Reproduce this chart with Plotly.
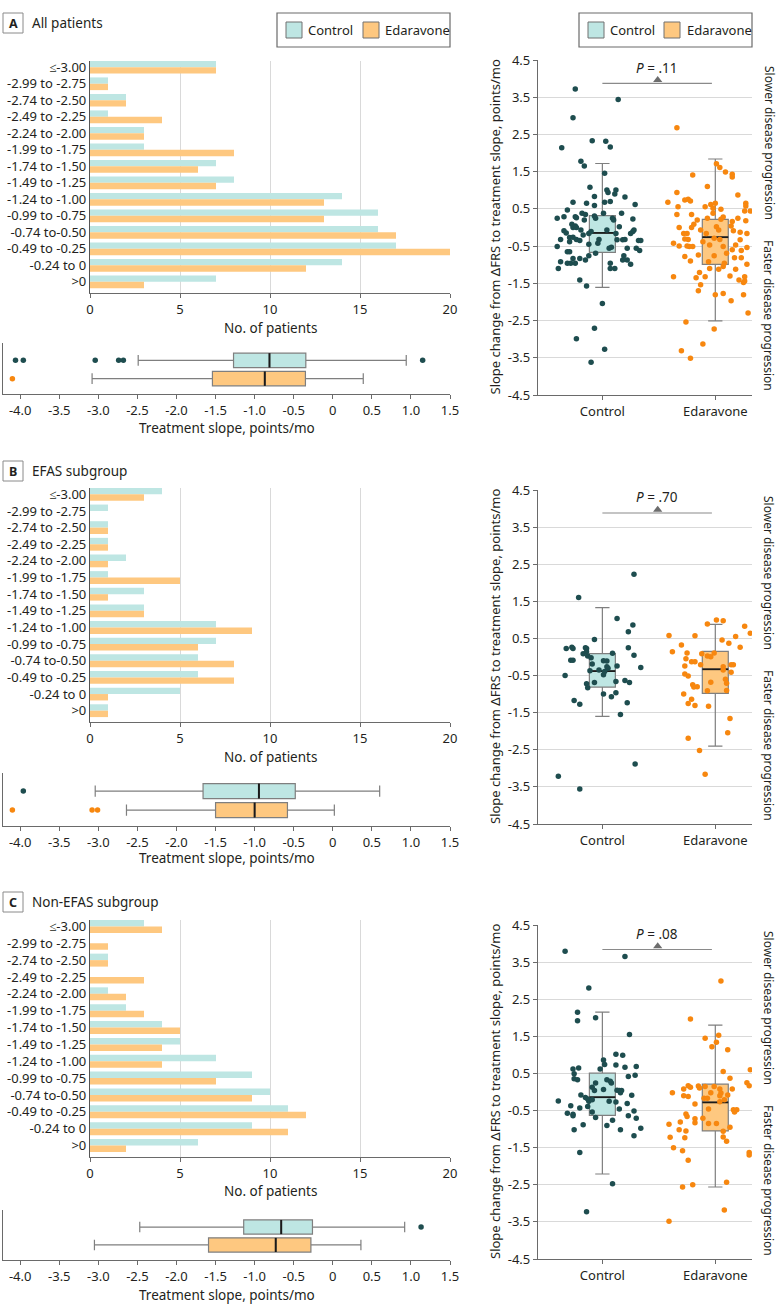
import plotly.graph_objects as go

W, H = 780, 1313
FONT = "Noto Sans"
TXT = "#231f20"
C_BAR = "#bee6e3"
E_BAR = "#fec880"
C_DOT = "#1e4d4f"
E_DOT = "#f7870f"
GRID = "#d9d9d9"
AX = "#6a6a6a"

# ---------------- data ----------------
categories = ["≤-3.00", "-2.99 to -2.75", "-2.74 to -2.50", "-2.49 to -2.25", "-2.24 to -2.00",
              "-1.99 to -1.75", "-1.74 to -1.50", "-1.49 to -1.25", "-1.24 to -1.00",
              "-0.99 to -0.75", "-0.74 to-0.50", "-0.49 to -0.25", "-0.24 to 0", ">0"]

hist_a_control = [7, 1, 2, 1, 3, 3, 7, 8, 14, 16, 16, 17, 14, 7]
hist_a_edaravone = [7, 1, 2, 4, 3, 8, 6, 7, 13, 13, 17, 20, 12, 3]
hist_b_control = [4, 1, 1, 1, 2, 1, 3, 3, 7, 7, 6, 6, 5, 1]
hist_b_edaravone = [3, 0, 1, 1, 1, 5, 1, 3, 9, 6, 8, 8, 1, 1]
hist_c_control = [3, 0, 1, 0, 1, 2, 4, 5, 7, 9, 10, 11, 9, 6]
hist_c_edaravone = [4, 1, 1, 3, 2, 3, 5, 4, 4, 7, 9, 12, 11, 2]

# treatment slope: [lower whisker, Q1, median, Q3, upper whisker]
slope_a_control = [-2.49, -1.27, -0.81, -0.345, 0.94]
slope_a_control_out = [-4.06, -3.96, -3.04, -2.74, -2.68, 1.15]
slope_a_edaravone = [-3.08, -1.54, -0.87, -0.35, 0.39]
slope_a_edaravone_out = [-4.10]
slope_b_control = [-3.04, -1.66, -0.945, -0.48, 0.60]
slope_b_control_out = [-3.96]
slope_b_edaravone = [-2.64, -1.50, -1.00, -0.58, 0.02]
slope_b_edaravone_out = [-4.10, -3.08, -3.01]
slope_c_control = [-2.47, -1.14, -0.66, -0.26, 0.92]
slope_c_control_out = [1.13]
slope_c_edaravone = [-3.05, -1.59, -0.73, -0.28, 0.36]
slope_c_edaravone_out = []

# slope change: [lower whisker, Q1, median, Q3, upper whisker]
change_a_control = [-1.61, -0.666, -0.146, 0.32, 1.72]
change_a_edaravone = [-2.51, -0.99, -0.26, 0.22, 1.84]
change_b_control = [-1.60, -0.81, -0.38, 0.09, 1.33]
change_b_edaravone = [-2.40, -0.98, -0.33, 0.15, 0.88]
change_c_control = [-2.21, -0.63, -0.14, 0.51, 2.15]
change_c_edaravone = [-2.56, -1.05, -0.28, 0.21, 1.80]

p_values = ["P = .11", "P = .70", "P = .08"]
p_bracket_y = [3.87, 3.88, 3.84]

# individual patients: (horizontal jitter, slope change)
pts_a_control = [
    (-0.24, 3.72), (0.14, 3.44), (-0.26, 2.95), (-0.09, 2.33), (0.03, 2.32), (-0.36, 2.14), (0.07, 2.16),
    (-0.19, 1.78), (-0.16, 1.65), (0.02, 1.46), (-0.11, 1.08), (0.04, 1.01), (0.05, 0.94), (0.12, 1.01),
    (0.11, 0.90), (-0.07, 0.83), (0.20, 0.82), (-0.26, 0.68), (0.02, 0.68), (0.07, 0.70), (-0.07, 0.59),
    (0.29, 0.62), (-0.31, 0.47), (-0.40, 0.25), (-0.34, 0.29), (-0.18, 0.38), (-0.15, 0.35), (-0.24, 0.29),
    (-0.23, 0.26), (-0.27, 0.09), (-0.26, 0.00), (-0.24, 0.04), (-0.23, 0.00), (-0.34, -0.09), (-0.16, 0.20),
    (-0.06, 0.25), (0.09, 0.25), (0.10, 0.20), (0.15, 0.02), (0.27, 0.23), (0.28, -0.07), (0.27, -0.11),
    (-0.17, -0.20), (-0.12, -0.16), (-0.37, -0.32), (-0.29, -0.27), (-0.26, -0.26), (-0.23, -0.32),
    (-0.20, -0.35), (-0.29, -0.38), (-0.40, -0.51), (-0.31, -0.65), (-0.29, -0.65), (-0.12, -0.45),
    (-0.03, -0.32), (0.06, -0.56), (0.08, -0.53), (0.18, -0.33), (0.20, -0.32), (0.30, -0.56), (0.33, -0.62),
    (0.32, -0.35), (0.34, -0.35), (-0.37, -0.92), (-0.26, -0.83), (-0.20, -0.83), (-0.12, -0.76),
    (-0.31, -0.96), (-0.28, -0.96), (-0.24, -0.96), (-0.15, -0.87), (-0.39, -1.10), (0.07, -0.96),
    (0.07, -1.10), (0.11, -1.10), (0.18, -0.87), (0.22, -0.87), (0.19, -0.76), (0.25, -0.99), (-0.20, -1.41),
    (-0.14, -1.57), (0.00, -2.04), (-0.07, -2.71), (-0.23, -2.99), (0.02, -3.27), (-0.10, -3.62),
    (-0.10, -0.11), (0.04, -0.07), (0.12, -0.16), (-0.04, -0.42), (0.13, -0.33), (-0.07, 0.31), (0.01, 0.38),
    (0.17, 0.38), (-0.14, 0.65), (-0.32, -0.15), (-0.19, -0.07), (0.22, -0.56), (-0.06, -0.69), (0.25, -0.16),
]
pts_a_edaravone = [
    (-0.34, 2.68), (-0.07, 1.10), (-0.20, 1.41), (0.01, 1.71), (0.04, 1.61), (0.09, 1.49), (0.15, 1.43),
    (0.15, 1.36), (-0.34, 0.94), (-0.42, 0.68), (-0.27, 0.74), (-0.24, 0.76), (-0.22, 0.71), (0.20, 0.87),
    (-0.33, 0.56), (-0.34, 0.35), (-0.21, 0.35), (-0.09, 0.56), (-0.04, 0.62), (0.00, 0.65), (-0.02, 0.52),
    (-0.02, 0.38), (0.05, 0.49), (0.05, 0.22), (0.27, 0.65), (0.27, 0.58), (0.31, 0.44), (0.26, 0.44),
    (0.27, 0.18), (0.20, 0.25), (0.15, 0.16), (0.14, 0.04), (0.28, -0.16), (0.22, -0.13), (0.16, -0.09),
    (-0.32, 0.00), (-0.28, -0.16), (-0.16, 0.20), (-0.19, 0.09), (-0.21, 0.00), (-0.25, -0.16),
    (-0.24, -0.32), (-0.37, -0.42), (-0.32, -0.50), (-0.25, -0.50), (-0.23, -0.51), (-0.20, -0.51),
    (-0.27, -0.31), (-0.13, -0.07), (-0.08, -0.16), (-0.01, -0.29), (0.01, 0.02), (0.03, -0.07),
    (0.04, -0.32), (-0.05, -0.47), (0.07, -0.51), (0.10, -0.69), (0.23, -0.62), (0.15, -0.60), (0.17, -0.81),
    (0.23, -0.81), (0.28, -0.54), (-0.27, -0.78), (-0.22, -0.90), (-0.15, -0.74), (-0.06, -0.92),
    (-0.01, -0.76), (-0.14, -1.21), (-0.17, -1.35), (-0.09, -1.32), (-0.05, -1.10), (0.03, -1.12),
    (0.07, -1.05), (0.08, -0.96), (0.18, -1.12), (0.13, -1.30), (0.21, -1.41), (0.26, -1.32), (0.25, -1.48),
    (0.26, -1.44), (0.28, -0.99), (-0.37, -1.32), (-0.13, -1.54), (-0.15, -1.70), (0.00, -1.81),
    (0.07, -1.77), (0.25, -1.81), (0.14, -1.97), (0.29, -2.30), (-0.26, -2.54), (-0.01, -2.73),
    (-0.11, -3.13), (-0.30, -3.31), (-0.22, -3.51), (0.18, -0.47), (0.22, -0.33), (-0.11, -0.38),
    (0.07, 0.28), (-0.07, 0.25),
]
pts_b_control = [
    (-0.21, 1.60), (0.28, 2.23), (0.13, 1.04), (0.27, 0.86), (0.23, 0.68), (-0.07, 0.47), (-0.32, 0.23),
    (-0.27, 0.26), (-0.26, 0.23), (-0.15, 0.25), (-0.14, 0.23), (0.23, 0.25), (-0.28, -0.09), (-0.26, -0.09),
    (-0.17, 0.09), (-0.13, 0.03), (-0.10, -0.02), (0.01, -0.10), (0.04, -0.11), (0.09, 0.10), (0.28, 0.05),
    (0.13, -0.24), (0.34, -0.28), (-0.33, -0.50), (-0.11, -0.37), (-0.03, -0.35), (0.05, -0.30),
    (0.01, -0.48), (-0.14, -0.72), (-0.13, -0.83), (-0.07, -0.69), (0.12, -0.66), (0.20, -0.63),
    (0.24, -0.69), (0.01, -1.00), (0.08, -1.07), (0.12, -0.96), (-0.25, -1.17), (-0.20, -1.27),
    (0.22, -1.23), (0.16, -1.55), (0.29, -2.88), (-0.39, -3.21), (-0.20, -3.56), (0.04, -0.26),
    (-0.14, 0.14), (-0.09, -0.19), (0.02, -0.39),
]
pts_b_edaravone = [
    (-0.41, 0.58), (-0.38, 0.14), (-0.30, 0.32), (-0.25, 0.11), (-0.26, -0.05), (-0.27, -0.24),
    (-0.21, -0.13), (-0.18, -0.13), (-0.18, 0.57), (-0.07, 0.89), (0.01, 1.00), (0.07, 0.98), (0.06, 0.46),
    (0.12, 0.37), (0.18, 0.55), (0.22, 0.26), (0.26, 0.83), (0.31, 0.64), (-0.12, 0.09), (-0.04, 0.01),
    (-0.07, 0.03), (-0.01, 0.11), (-0.13, -0.21), (0.07, -0.26), (0.14, -0.21), (0.16, -0.21),
    (0.14, -0.41), (-0.27, -0.46), (-0.24, -0.51), (-0.20, -0.75), (-0.16, -0.80), (-0.19, -0.81),
    (-0.04, -0.68), (0.09, -0.60), (0.10, -0.71), (0.10, -0.90), (-0.07, -0.91), (-0.28, -1.00),
    (-0.21, -1.14), (-0.24, -1.25), (-0.18, -1.31), (-0.06, -1.33), (0.13, -1.66), (0.11, -2.04),
    (-0.24, -2.19), (-0.14, -2.52), (-0.09, -3.16), (0.07, -0.35),
]
pts_c_control = [
    (-0.33, 3.79), (0.20, 3.65), (-0.12, 2.80), (-0.22, 2.15), (-0.22, 1.92), (-0.06, 2.00), (0.24, 1.55),
    (0.01, 0.86), (0.02, 0.74), (0.12, 1.02), (0.18, 0.99), (0.12, 0.73), (0.20, 0.67), (0.30, 0.69),
    (-0.21, 0.65), (-0.26, 0.62), (-0.25, 0.49), (-0.25, 0.36), (-0.22, 0.33), (-0.02, 0.62), (0.04, 0.33),
    (0.08, 0.24), (-0.06, 0.24), (-0.09, 0.13), (-0.07, 0.04), (0.01, 0.07), (0.13, 0.05), (0.15, 0.04),
    (0.16, -0.02), (0.23, 0.42), (0.29, 0.45), (0.26, -0.09), (-0.19, -0.08), (-0.15, -0.15),
    (-0.13, -0.19), (-0.12, -0.25), (-0.39, -0.24), (-0.09, -0.21), (0.06, -0.25), (0.12, -0.27),
    (0.22, -0.31), (-0.20, -0.43), (-0.13, -0.39), (0.15, -0.46), (-0.28, -0.37), (-0.31, -0.57),
    (-0.26, -0.60), (-0.26, -0.64), (-0.09, -0.54), (-0.06, -0.69), (0.09, -0.76), (0.23, -0.64),
    (0.28, -0.51), (0.30, -0.71), (-0.17, -0.88), (0.04, -0.90), (0.34, -0.98), (-0.25, -1.02),
    (0.16, -1.02), (0.28, -1.18), (-0.20, -1.63), (0.09, -2.47), (-0.14, -3.23), (0.07, 0.29), (0.17, 0.04),
]
pts_c_edaravone = [
    (0.05, 2.99), (-0.22, 1.97), (-0.09, 1.45), (0.03, 1.53), (0.01, 1.34), (-0.03, 1.22), (0.11, 1.14),
    (0.07, 0.55), (0.13, 0.37), (0.31, 0.60), (0.28, 0.25), (0.30, 0.17), (0.15, 0.08), (-0.24, 0.17),
    (-0.15, 0.16), (-0.14, 0.11), (-0.01, 0.15), (0.04, 0.08), (-0.04, -0.02), (0.05, -0.03), (0.11, -0.08),
    (-0.10, -0.17), (-0.07, -0.17), (0.04, -0.10), (0.08, -0.21), (-0.38, -0.02), (-0.28, 0.08),
    (-0.28, -0.10), (-0.24, -0.12), (-0.18, -0.32), (-0.06, -0.46), (0.04, -0.26), (0.16, -0.48),
    (0.19, -0.48), (0.17, -0.54), (-0.26, -0.59), (-0.25, -0.66), (-0.31, -0.81), (-0.18, -0.72),
    (-0.11, -0.71), (-0.18, -0.83), (-0.06, -0.85), (0.01, -0.85), (-0.41, -0.87), (-0.32, -1.02),
    (-0.26, -1.05), (0.07, -1.06), (0.13, -0.95), (-0.40, -1.22), (-0.27, -1.23), (0.07, -1.21),
    (0.10, -1.33), (-0.37, -1.50), (-0.29, -1.58), (0.30, -1.63), (0.30, -1.70), (-0.24, -1.84),
    (0.10, -2.43), (-0.20, -2.50), (-0.29, -2.56), (0.08, -3.18), (-0.41, -3.48), (-0.22, 0.13), (-0.09, 0.15),
]

panels = [
    dict(key="A", title="All patients", hc=hist_a_control, he=hist_a_edaravone,
         sc=slope_a_control, sco=slope_a_control_out, se=slope_a_edaravone, seo=slope_a_edaravone_out,
         cc=change_a_control, ce=change_a_edaravone, pc=pts_a_control, pe=pts_a_edaravone,
         label_y=23, hist=(61, 293), hist_title=328, strip=(343, 394), strip_title=428, scat=(60, 395)),
    dict(key="B", title="EFAS subgroup", hc=hist_b_control, he=hist_b_edaravone,
         sc=slope_b_control, sco=slope_b_control_out, se=slope_b_edaravone, seo=slope_b_edaravone_out,
         cc=change_b_control, ce=change_b_edaravone, pc=pts_b_control, pe=pts_b_edaravone,
         label_y=471, hist=(488, 722), hist_title=757, strip=(773, 826), strip_title=858, scat=(490, 824)),
    dict(key="C", title="Non-EFAS subgroup", hc=hist_c_control, he=hist_c_edaravone,
         sc=slope_c_control, sco=slope_c_control_out, se=slope_c_edaravone, seo=slope_c_edaravone_out,
         cc=change_c_control, ce=change_c_edaravone, pc=pts_c_control, pe=pts_c_edaravone,
         label_y=902, hist=(920, 1157), hist_title=1191, strip=(1210, 1260), strip_title=1295, scat=(925, 1259)),
]


def px_x(p):
    return p / W


def px_y(p):
    return 1 - p / H


def xdom(a, b):
    return [a / W, b / W]


def ydom(top, bottom):
    return [1 - bottom / H, 1 - top / H]


def ann(text, x, y, size=13.5, xanchor="center", angle=0, **kw):
    d = dict(text=text, x=px_x(x), y=px_y(y), xref="paper", yref="paper", xanchor=xanchor,
             yanchor="middle", showarrow=False, textangle=angle, font=dict(size=size, color=TXT))
    d.update(kw)
    return d


bar_traces, box_traces, line_traces = [], [], []
layout = dict(
    width=W, height=H, margin=dict(l=0, r=0, t=0, b=0, pad=0), autosize=False,
    paper_bgcolor="white", plot_bgcolor="white",
    font=dict(family=FONT, size=13, color=TXT),
    showlegend=False, barmode="group", bargap=0.23, bargroupgap=0,
)
shapes, annotations = [], []

ytick_scatter = [-4.5, -3.5, -2.5, -1.5, -0.5, 0.5, 1.5, 2.5, 3.5, 4.5]
ytick_scatter_txt = ["-4.5", "-3.5", "-2.5", "-1.5", "-0.5", "0.5", "1.5", "2.5", "3.5", "4.5"]
xtick_strip = [-4.0, -3.5, -3.0, -2.5, -2.0, -1.5, -1.0, -0.5, 0, 0.5, 1.0, 1.5]
xtick_strip_txt = ["-4.0", "-3.5", "-3.0", "-2.5", "-2.0", "-1.5", "-1.0", "-0.5", "0", "0.5", "1.0", "1.5"]

BOXW_S = 0.79     # strip box height (data units)
BOXW_C = 0.23     # scatter box width (data units)

for i, p in enumerate(panels):
    n = 3 * i
    ax_h, ax_s, ax_c = n + 1, n + 2, n + 3

    def nm(k, a):
        return f"{a}{'' if k == 1 else k}"

    # ---- histogram ----
    ypos = list(range(len(categories)))
    bar_traces.append(go.Bar(orientation="h", x=p["hc"], y=ypos, marker=dict(color=C_BAR, line=dict(width=0)),
                             xaxis=nm(ax_h, "x"), yaxis=nm(ax_h, "y"), hoverinfo="skip"))
    bar_traces.append(go.Bar(orientation="h", x=p["he"], y=ypos, marker=dict(color=E_BAR, line=dict(width=0)),
                             xaxis=nm(ax_h, "x"), yaxis=nm(ax_h, "y"), hoverinfo="skip"))
    layout[nm(ax_h, "xaxis")] = dict(domain=xdom(90, 450), anchor=nm(ax_h, "y"), range=[0, 20],
                                     tickvals=[0, 5, 10, 15, 20], showgrid=True, gridcolor=GRID, gridwidth=1.3,
                                     zeroline=False, showline=True, linecolor=AX, linewidth=1.2,
                                     ticks="outside", ticklen=4, tickcolor=AX, tickfont=dict(size=13),
                                     automargin=False)
    layout[nm(ax_h, "yaxis")] = dict(domain=ydom(*p["hist"]), anchor=nm(ax_h, "x"), range=[13.68, -0.38],
                                     tickvals=ypos, ticktext=categories, showgrid=False, zeroline=False,
                                     showline=True, linecolor="#555", linewidth=1.2, ticks="",
                                     tickfont=dict(size=13), automargin=False)
    annotations.append(ann("No. of patients", 270, p["hist_title"]))

    # ---- treatment slope strip ----
    for pos, st, out, fill, dot in [(1, p["sc"], p["sco"], C_BAR, C_DOT), (0, p["se"], p["seo"], E_BAR, E_DOT)]:
        box_traces.append(go.Box(orientation="h", y=[pos], lowerfence=[st[0]], q1=[st[1]], median=[st[2]],
                                 q3=[st[3]], upperfence=[st[4]], width=BOXW_S, whiskerwidth=0.75,
                                 fillcolor=fill, line=dict(color="#7f7f7f", width=1.2), boxpoints=False,
                                 xaxis=nm(ax_s, "x"), yaxis=nm(ax_s, "y"), hoverinfo="skip"))
        line_traces.append(go.Scatter(x=[st[2], st[2]], y=[pos - BOXW_S / 2, pos + BOXW_S / 2], mode="lines",
                                      line=dict(color="#1a1a1a", width=2), xaxis=nm(ax_s, "x"),
                                      yaxis=nm(ax_s, "y"), hoverinfo="skip"))
        if out:
            line_traces.append(go.Scatter(x=out, y=[pos] * len(out), mode="markers",
                                          marker=dict(color=dot, size=5.5), xaxis=nm(ax_s, "x"),
                                          yaxis=nm(ax_s, "y"), hoverinfo="skip"))
    layout[nm(ax_s, "xaxis")] = dict(domain=xdom(3, 450), anchor=nm(ax_s, "y"), range=[-4.22, 1.5],
                                     tickvals=xtick_strip, ticktext=xtick_strip_txt, showgrid=False,
                                     zeroline=False, showline=True, linecolor=AX, linewidth=1.2,
                                     ticks="outside", ticklen=4, tickcolor=AX, tickfont=dict(size=13),
                                     automargin=False)
    layout[nm(ax_s, "yaxis")] = dict(domain=ydom(*p["strip"]), anchor=nm(ax_s, "x"), range=[-0.84, 1.95],
                                     showticklabels=False, showgrid=False, zeroline=False, showline=True,
                                     linecolor=AX, linewidth=1.2, ticks="", automargin=False)
    annotations.append(ann("Treatment slope, points/mo", 227, p["strip_title"]))

    # ---- slope change scatter ----
    for pos, st, pts, fill, dot in [(0, p["cc"], p["pc"], C_BAR, C_DOT), (1, p["ce"], p["pe"], E_BAR, E_DOT)]:
        box_traces.append(go.Box(x=[pos], lowerfence=[st[0]], q1=[st[1]], median=[st[2]], q3=[st[3]],
                                 upperfence=[st[4]], width=BOXW_C, whiskerwidth=0.55, fillcolor=fill,
                                 line=dict(color="#7f7f7f", width=1.2), boxpoints=False,
                                 xaxis=nm(ax_c, "x"), yaxis=nm(ax_c, "y"), hoverinfo="skip"))
        line_traces.append(go.Scatter(x=[pos - BOXW_C / 2, pos + BOXW_C / 2], y=[st[2], st[2]], mode="lines",
                                      line=dict(color="#1a1a1a", width=1.8), xaxis=nm(ax_c, "x"),
                                      yaxis=nm(ax_c, "y"), hoverinfo="skip"))
        line_traces.append(go.Scatter(x=[pos + d for d, _ in pts], y=[v for _, v in pts], mode="markers",
                                      marker=dict(color=dot, size=5.5), xaxis=nm(ax_c, "x"),
                                      yaxis=nm(ax_c, "y"), hoverinfo="skip"))
    # P-value bracket
    by = p_bracket_y[i]
    shapes.append(dict(type="line", xref=nm(ax_c, "x"), yref=nm(ax_c, "y"), x0=0, x1=0.97, y0=by, y1=by,
                       line=dict(color="#8a8a8a", width=1.2)))
    line_traces.append(go.Scatter(x=[0.49], y=[by + 0.09], mode="markers",
                                  marker=dict(symbol="triangle-up", size=8, color="#6d6d6d"),
                                  xaxis=nm(ax_c, "x"), yaxis=nm(ax_c, "y"), hoverinfo="skip"))
    ptxt = p_values[i].replace("P", "<i>P</i>", 1)
    annotations.append(dict(text=ptxt, x=0.48, y=by + 0.42, xref=nm(ax_c, "x"), yref=nm(ax_c, "y"),
                            xanchor="center", yanchor="middle", showarrow=False,
                            font=dict(size=13.5, color=TXT)))
    layout[nm(ax_c, "xaxis")] = dict(domain=xdom(538, 752), anchor=nm(ax_c, "y"), range=[-0.57, 1.325],
                                     tickvals=[0, 1], ticktext=["Control", "Edaravone"], showgrid=False,
                                     zeroline=False, showline=True, linecolor=AX, linewidth=1.2,
                                     ticks="outside", ticklen=4, tickcolor=AX, tickfont=dict(size=13),
                                     automargin=False)
    layout[nm(ax_c, "yaxis")] = dict(domain=ydom(*p["scat"]), anchor=nm(ax_c, "x"), range=[-4.5, 4.5],
                                     tickvals=ytick_scatter, ticktext=ytick_scatter_txt, showgrid=True,
                                     gridcolor=GRID, gridwidth=1.3, zeroline=False, showline=True,
                                     linecolor=AX, linewidth=1.2, ticks="outside", ticklen=4, tickcolor=AX,
                                     tickfont=dict(size=13), automargin=False)
    top, bot = p["scat"]
    annotations.append(ann("Slope change from ΔFRS to treatment slope, points/mo", 495, (top + bot) / 2,
                           size=13, angle=-90))
    annotations.append(ann("Slower disease progression", 769, top + 83, size=12, angle=90))
    annotations.append(ann("Faster disease progression", 769, top + 255, size=12, angle=90))

    # ---- panel label ----
    ly = p["label_y"]
    shapes.append(dict(type="rect", xref="paper", yref="paper", x0=px_x(3), x1=px_x(23), y0=px_y(ly + 10),
                       y1=px_y(ly - 10), line=dict(color="#8a8a8a", width=1), fillcolor="white"))
    annotations.append(ann(f"<b>{p['key']}</b>", 13, ly, size=12.5))
    annotations.append(ann(p["title"], 30, ly, xanchor="left"))

# ---- legends (drawn) ----
for (bx0, bx1, sc0, tc, se0, te) in [(277, 450, 286, 306, 363, 383), (579, 752, 588, 608, 664, 685)]:
    shapes.append(dict(type="rect", xref="paper", yref="paper", x0=px_x(bx0), x1=px_x(bx1), y0=px_y(47),
                       y1=px_y(13), line=dict(color="#6a6a6a", width=1.2), fillcolor="white"))
    for sx, col in [(sc0, C_BAR), (se0, E_BAR)]:
        shapes.append(dict(type="rect", xref="paper", yref="paper", x0=px_x(sx), x1=px_x(sx + 16),
                           y0=px_y(38), y1=px_y(22), line=dict(color="#707070", width=1), fillcolor=col))
    annotations.append(ann("Control", tc, 30, size=13, xanchor="left"))
    annotations.append(ann("Edaravone", te, 30, size=13, xanchor="left"))

layout["shapes"] = shapes
layout["annotations"] = annotations

fig = go.Figure(data=bar_traces + box_traces + line_traces)
fig.update_layout(**layout)
fig.write_html("out.html", config={"displayModeBar": False},
               post_script="document.body.style.margin='0';document.body.style.overflow='hidden';")
